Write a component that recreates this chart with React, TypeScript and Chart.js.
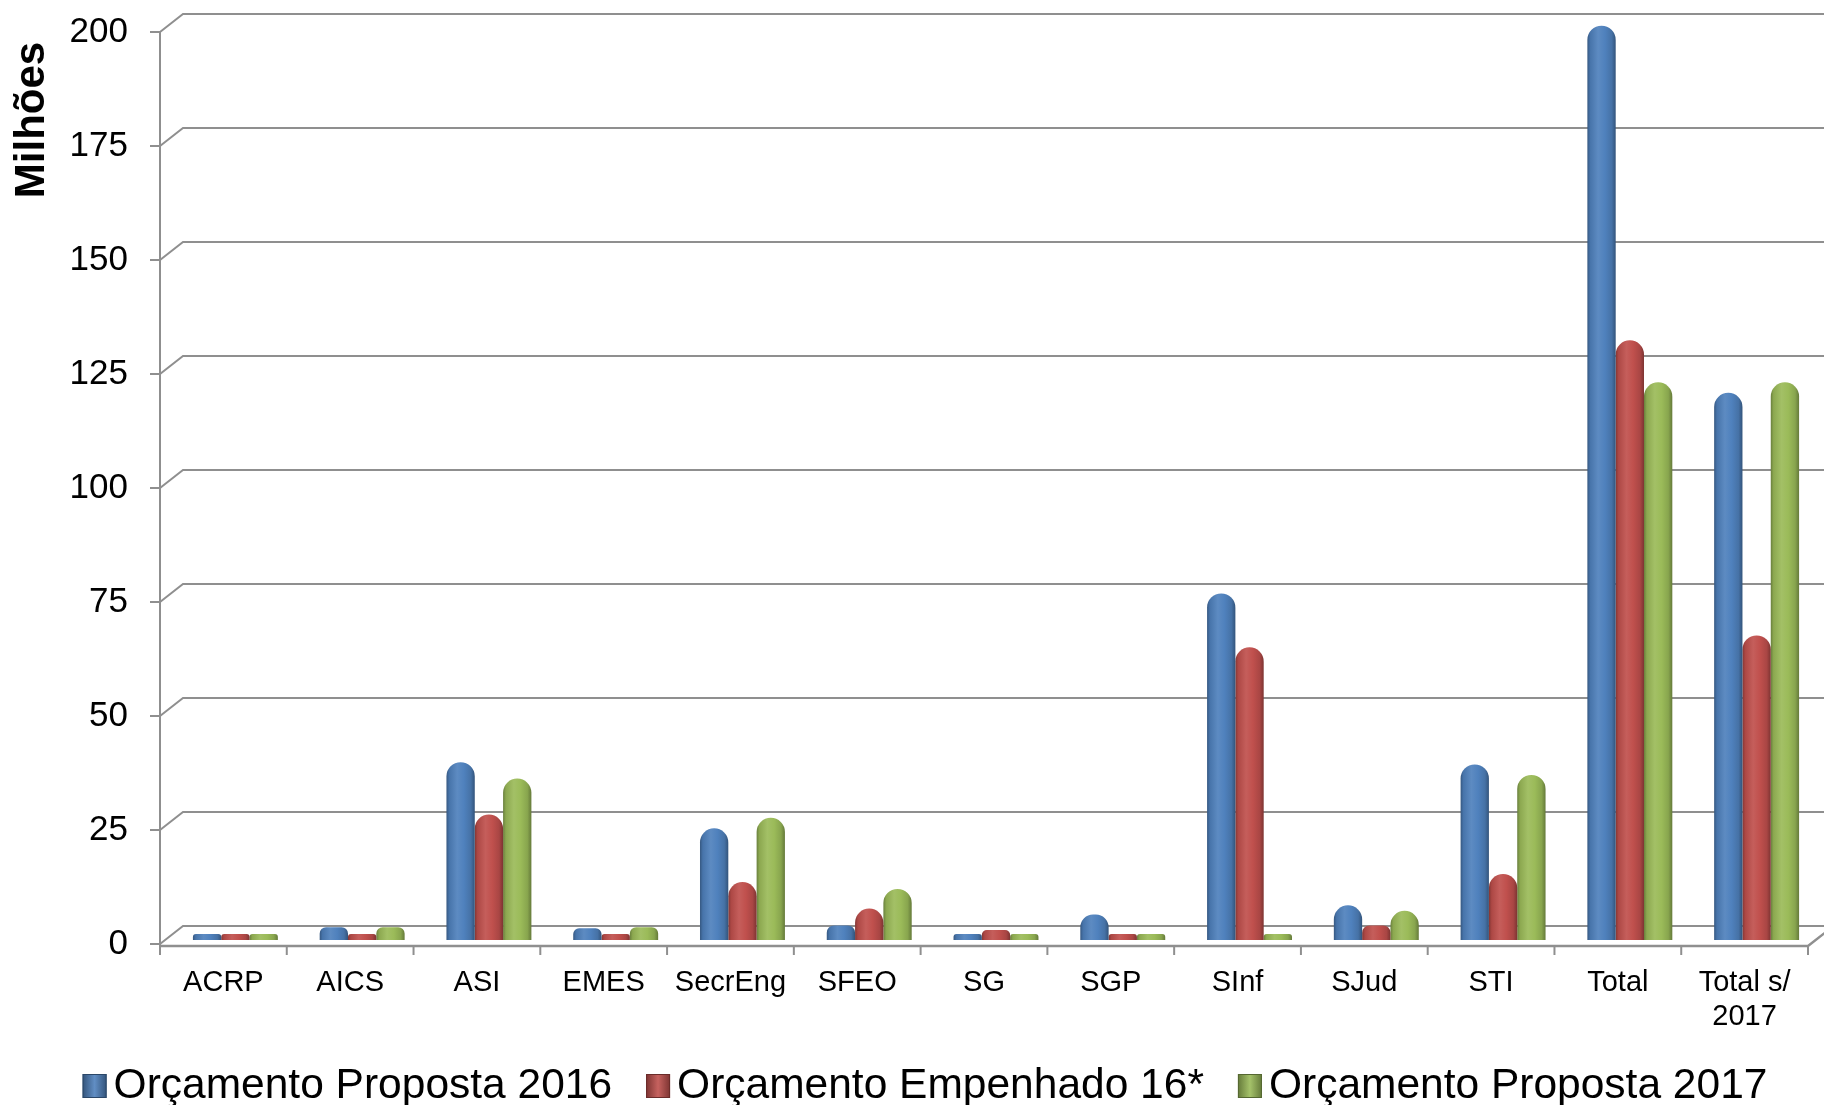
import React, { useEffect, useRef } from 'react';
import { Chart, registerables } from 'chart.js';

Chart.register(...registerables);

// ---- data ----
const categories: (string | string[])[] = [
  'ACRP', 'AICS', 'ASI', 'EMES', 'SecrEng', 'SFEO', 'SG', 'SGP', 'SInf', 'SJud', 'STI', 'Total', ['Total s/', '2017'],
];
const seriesNames = ['Orçamento Proposta 2016', 'Orçamento Empenhado 16*', 'Orçamento Proposta 2017'];
const proposta2016 = [0.8, 2.8, 39, 2.6, 24.5, 3.2, 0.8, 5.6, 76, 7.6, 38.5, 200.5, 120];
const empenhado16 = [0.5, 0.4, 27.5, 0.4, 12.7, 6.9, 2.2, 0.6, 64.2, 3.2, 14.5, 131.5, 66.8];
const proposta2017 = [0.6, 2.8, 35.4, 2.8, 26.8, 11.2, 1.2, 0.2, 0.2, 6.4, 36.2, 122.3, 122.3];
const yMin = 0;
const yMax = 200;
const yStep = 25;
const yTitle = 'Milhões';

// ---- style ----
const seriesColors = ['#4F81BD', '#C0504D', '#9BBB59'];
const FONT = "'Liberation Sans', Arial, sans-serif";
const GRID = '#8F8F8F';
const CAT_PCT = 0.67;
const WALL_DX = 23;
const WALL_DY = 18;
const BAR_DX = 12;
const BAR_DY = 4;

function shade(hex: string, amt: number): string {
  const n = parseInt(hex.slice(1), 16);
  let r = (n >> 16) & 255, g = (n >> 8) & 255, b = n & 255;
  const t = amt < 0 ? 0 : 255;
  const p = Math.abs(amt);
  r = Math.round(r + (t - r) * p);
  g = Math.round(g + (t - g) * p);
  b = Math.round(b + (t - b) * p);
  return `rgb(${r},${g},${b})`;
}

function barFill(c: any) {
  const base = seriesColors[c.datasetIndex];
  const chart = c.chart;
  const xs = chart.scales && chart.scales.x;
  if (c.type !== 'data' || !xs || !chart.chartArea) return base;
  const catW = (xs.right - xs.left) / categories.length;
  const groupW = catW * CAT_PCT;
  const barW = groupW / 3;
  const x0 = xs.getPixelForValue(c.dataIndex) - groupW / 2 + c.datasetIndex * barW;
  const g = chart.ctx.createLinearGradient(x0, 0, x0 + barW, 0);
  g.addColorStop(0, shade(base, -0.32));
  g.addColorStop(0.1, shade(base, -0.1));
  g.addColorStop(0.38, shade(base, 0.08));
  g.addColorStop(0.62, base);
  g.addColorStop(0.86, shade(base, -0.12));
  g.addColorStop(1, shade(base, -0.35));
  return g;
}

const decorPlugin = {
  id: 'decor3d',
  beforeDatasetsDraw(chart: any) {
    const { ctx, chartArea: a, scales } = chart;
    const ys = scales.y;
    ctx.save();
    ctx.strokeStyle = GRID;
    ctx.lineWidth = 2;
    ys.ticks.forEach((t: any) => {
      const py = ys.getPixelForValue(t.value);
      ctx.beginPath();
      ctx.moveTo(a.left, py);
      ctx.lineTo(a.left + WALL_DX, py - WALL_DY);
      ctx.lineTo(chart.width, py - WALL_DY);
      ctx.stroke();
      ctx.beginPath();
      ctx.moveTo(a.left - 10, py);
      ctx.lineTo(a.left, py);
      ctx.stroke();
    });
    // front value axis
    ctx.beginPath();
    ctx.moveTo(a.left, ys.getPixelForValue(yMax));
    ctx.lineTo(a.left, a.bottom + 3);
    ctx.stroke();
    // floor plate front edge
    ctx.lineWidth = 2.5;
    ctx.beginPath();
    ctx.moveTo(a.left, a.bottom + 2);
    ctx.lineTo(a.right, a.bottom + 2);
    ctx.lineTo(a.right + WALL_DX, a.bottom + 2 - WALL_DY);
    ctx.stroke();
    // category tick marks
    ctx.lineWidth = 2;
    const n = categories.length;
    for (let i = 0; i <= n; i++) {
      const xx = a.left + (i * (a.right - a.left)) / n;
      ctx.beginPath();
      ctx.moveTo(xx, a.bottom + 3);
      ctx.lineTo(xx, a.bottom + 11);
      ctx.stroke();
    }
    ctx.restore();
    // shift bars into the middle of the 3D depth
    ctx.save();
    ctx.translate(BAR_DX, -BAR_DY);
  },
  afterDatasetsDraw(chart: any) {
    chart.ctx.restore();
  },
  afterDraw(chart: any) {
    const { ctx, chartArea: a } = chart;
    ctx.save();
    // value-axis title
    ctx.font = `bold 42px ${FONT}`;
    ctx.fillStyle = '#000';
    ctx.textAlign = 'center';
    ctx.textBaseline = 'middle';
    ctx.translate(32, a.top + 88);
    ctx.rotate(-Math.PI / 2);
    ctx.fillText(yTitle, 0, 0);
    ctx.restore();

    ctx.save();
    ctx.font = `42.5px ${FONT}`;
    ctx.textBaseline = 'middle';
    ctx.textAlign = 'left';
    const box = 24;
    const gapBox = 7;
    const gapItem = 34;
    const widths = seriesNames.map((s) => ctx.measureText(s).width);
    const total = widths.reduce((s, w) => s + box + gapBox + w, 0) + gapItem * (seriesNames.length - 1);
    let x = chart.width / 2 + 13 - total / 2;
    const cy = 1086;
    seriesNames.forEach((name, i) => {
      const col = seriesColors[i];
      const g = ctx.createLinearGradient(x, 0, x + box, 0);
      g.addColorStop(0, shade(col, -0.35));
      g.addColorStop(0.5, shade(col, 0.1));
      g.addColorStop(1, shade(col, -0.35));
      ctx.fillStyle = g;
      ctx.fillRect(x, cy - box / 2, box, box);
      ctx.strokeStyle = shade(col, -0.45);
      ctx.lineWidth = 1;
      ctx.strokeRect(x + 0.5, cy - box / 2 + 0.5, box - 1, box - 1);
      x += box + gapBox;
      ctx.fillStyle = '#000';
      ctx.fillText(name, x, cy);
      x += widths[i] + gapItem;
    });
    ctx.restore();
  },
};

export default function App() {
  const ref = useRef<HTMLCanvasElement | null>(null);
  useEffect(() => {
    document.body.style.margin = '0';
    const canvas = ref.current;
    if (!canvas) return;
    const values = [proposta2016, empenhado16, proposta2017];
    const chart = new Chart(canvas, {
      type: 'bar',
      data: {
        labels: categories as any,
        datasets: seriesNames.map((name, i) => ({
          label: name,
          data: values[i],
          backgroundColor: barFill as any,
          borderWidth: 0,
          borderSkipped: 'start',
          borderRadius: { topLeft: 999, topRight: 999, bottomLeft: 0, bottomRight: 0 },
          minBarLength: 6,
          categoryPercentage: CAT_PCT,
          barPercentage: 1,
          clip: false as any,
        })),
      },
      options: {
        animation: false,
        responsive: false,
        devicePixelRatio: 1,
        layout: { padding: { left: 0, right: 16, top: 32, bottom: 0 } },
        plugins: {
          legend: { display: false },
          tooltip: { enabled: false },
        },
        scales: {
          x: {
            offset: true,
            grid: { display: false, drawTicks: false },
            border: { display: false },
            ticks: {
              color: '#000',
              font: { family: FONT, size: 29, lineHeight: 1.17 },
              padding: 22,
              maxRotation: 0,
              autoSkip: false,
            },
            afterFit: (s: any) => {
              s.height = 161;
              s.paddingLeft = 0;
              s.paddingRight = 0;
            },
          },
          y: {
            min: yMin,
            max: yMax,
            grid: { display: false, drawTicks: false },
            border: { display: false },
            ticks: {
              stepSize: yStep,
              color: '#000',
              font: { family: FONT, size: 35 },
              padding: 32,
            },
            afterFit: (s: any) => {
              s.width = 160;
              s.paddingTop = 0;
              s.paddingBottom = 0;
            },
          },
        },
      },
      plugins: [decorPlugin],
    });
    return () => chart.destroy();
  }, []);
  return (
    <div style={{ width: 1824, height: 1105, position: 'relative' }}>
      <canvas ref={ref} width={1824} height={1105} style={{ display: 'block', width: 1824, height: 1105 }} />
    </div>
  );
}
